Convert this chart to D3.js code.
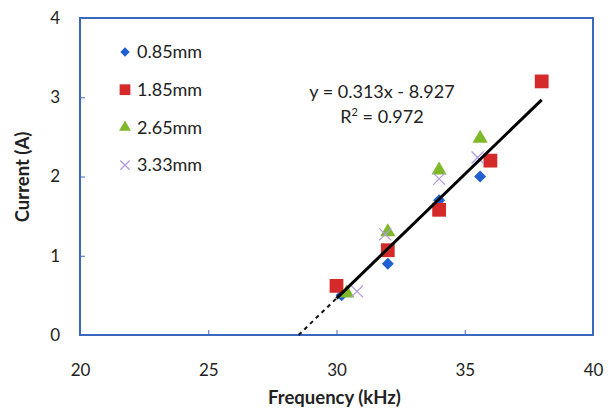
<!DOCTYPE html>
<html>
<head>
<meta charset="utf-8">
<script src="https://cdn.jsdelivr.net/npm/d3@7"></script>
<style>
  body { margin: 0; background: #fff; }
  text { font-family: Lato, "Open Sans", sans-serif; fill: #222; }
</style>
</head>
<body>
<div id="my_dataviz"></div>
<script>
// data
const seriesNames = ["0.85mm", "1.85mm", "2.65mm", "3.33mm"];
const freq085 = [30.2, 32, 34, 35.6];
const curr085 = [0.5, 0.9, 1.7, 2.0];
const freq185 = [30, 32, 34, 36, 38];
const curr185 = [0.62, 1.07, 1.58, 2.2, 3.2];
const freq265 = [30.4, 32, 34, 35.6];
const curr265 = [0.53, 1.3, 2.08, 2.48];
const freq333 = [30.8, 31.9, 34, 35.5];
const curr333 = [0.55, 1.27, 1.97, 2.24];
const xTicks = [20, 25, 30, 35, 40];
const yTicks = [0, 1, 2, 3, 4];
const slope = 0.313, intercept = -8.927;

// set the dimensions and margins of the graph
const margin = {top: 18, right: 23, bottom: 73, left: 80},
    width = 616 - margin.left - margin.right,
    height = 408 - margin.top - margin.bottom;

const svg = d3.select("#my_dataviz")
  .append("svg")
    .attr("width", 616)
    .attr("height", 408)
  .append("g")
    .attr("transform", `translate(${margin.left},${margin.top})`);

const x = d3.scaleLinear().domain([20, 40]).range([0, width]);
const y = d3.scaleLinear().domain([0, 4]).range([height, 0]);

const axisColor = "#3a68bf";

// axes with inside ticks
const xAxis = svg.append("g")
  .attr("transform", `translate(0, ${height})`)
  .call(d3.axisBottom(x).tickValues(xTicks).tickFormat(d3.format("d")).tickSize(-5).tickPadding(29));
const yAxis = svg.append("g")
  .call(d3.axisLeft(y).tickValues(yTicks).tickFormat(d3.format("d")).tickSize(-5).tickPadding(20));
[xAxis, yAxis].forEach(a => {
  a.select(".domain").remove();
  a.selectAll(".tick line").attr("stroke", axisColor);
  a.selectAll("text").style("font-size", "17px").style("fill", "#222")
    .attr("font-family", "Lato, 'Open Sans', sans-serif");
});

// plot border
svg.append("rect")
  .attr("width", width)
  .attr("height", height)
  .attr("fill", "none")
  .attr("stroke", axisColor)
  .attr("stroke-width", 2);

// axis titles
svg.append("text")
  .attr("x", width / 2 - 2)
  .attr("y", height + 63)
  .attr("dy", "0.35em")
  .attr("text-anchor", "middle")
  .style("font-size", "18.5px")
  .style("font-weight", "bold")
  .text("Frequency (kHz)");
svg.append("text")
  .attr("transform", "rotate(-90)")
  .attr("x", -(177 - margin.top))
  .attr("y", -57)
  .attr("dy", "0.35em")
  .attr("text-anchor", "middle")
  .style("font-size", "18.5px")
  .style("font-weight", "bold")
  .text("Current (A)");

// trendline: dashed back to zero crossing, solid over data range
const x0 = -intercept / slope;
const line = d3.line().x(d => x(d)).y(d => y(slope * d + intercept));
svg.append("path")
  .datum([x0, 30])
  .attr("d", line)
  .attr("fill", "none")
  .attr("stroke", "#111")
  .attr("stroke-width", 2)
  .attr("stroke-dasharray", "4,4");

// marker shapes
const colors = ["#1f5fcf", "#d42a2a", "#7fb92a", "#b39be0"];
const symbols = [d3.symbolSquare, d3.symbolSquare, d3.symbolTriangle, null];
const sizes = [72, 190, 100, 0];
const series = [
  d3.zip(freq085, curr085),
  d3.zip(freq185, curr185),
  d3.zip(freq265, curr265),
  d3.zip(freq333, curr333)
];

function drawMarker(g, i, s) {
  if (i === 3) {
    const h = 6 * s;
    g.append("path")
      .attr("d", `M${-h},${-h}L${h},${h}M${-h},${h}L${h},${-h}`)
      .attr("stroke", colors[i])
      .attr("stroke-width", 1.3)
      .attr("fill", "none");
  } else {
    g.append("path")
      .attr("d", d3.symbol().type(symbols[i]).size(sizes[i] * s * s)())
      .attr("transform", i === 0 ? "rotate(45)" : null)
      .attr("fill", colors[i]);
  }
}

series.forEach((pts, i) => {
  pts.forEach(p => {
    const g = svg.append("g").attr("transform", `translate(${x(p[0])},${y(p[1])})`);
    drawMarker(g, i, 1);
  });
});

svg.append("path")
  .datum([30, 38])
  .attr("d", line)
  .attr("fill", "none")
  .attr("stroke", "#000")
  .attr("stroke-width", 3);

// equation
svg.append("text")
  .attr("x", 302)
  .attr("y", 74)
  .attr("dy", "0.35em")
  .attr("text-anchor", "middle")
  .style("font-size", "18px")
  .text("y = 0.313x - 8.927");
const r2 = svg.append("text")
  .attr("x", 302)
  .attr("y", 99)
  .attr("dy", "0.35em")
  .attr("text-anchor", "middle")
  .style("font-size", "18px");
r2.append("tspan").text("R");
r2.append("tspan").attr("dy", -7).style("font-size", "11px").text("2");
r2.append("tspan").attr("dy", 7).text(" = 0.972");

// legend
seriesNames.forEach((name, i) => {
  const ly = 34 + i * 37.7;
  const g = svg.append("g").attr("transform", `translate(45,${ly})`);
  drawMarker(g, i, 0.78);
  svg.append("text")
    .attr("x", 57)
    .attr("y", ly)
    .attr("dy", "0.35em")
    .style("font-size", "18px")
    .text(name);
});
</script>
</body>
</html>
